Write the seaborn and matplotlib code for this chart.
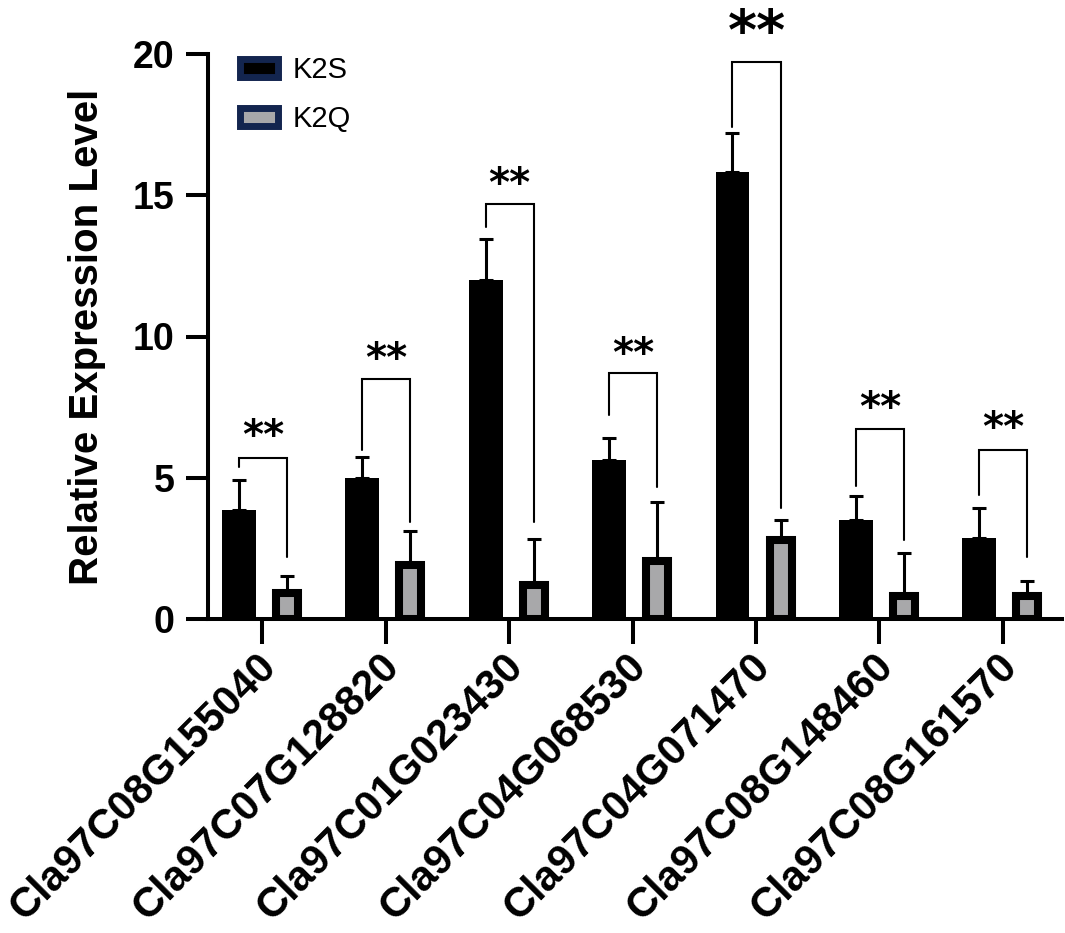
import numpy as np
import pandas as pd
import matplotlib
matplotlib.use("Agg")
import matplotlib.pyplot as plt
import matplotlib.transforms as mtransforms
from matplotlib.patches import Patch
import seaborn as sns

# ---------------- data ----------------
genes = ["Cla97C08G155040", "Cla97C07G128820", "Cla97C01G023430", "Cla97C04G068530",
         "Cla97C04G071470", "Cla97C08G148460", "Cla97C08G161570"]
groups = ["K2S", "K2Q"]
k2s_mean = [3.86, 4.99, 12.0, 5.63, 15.82, 3.50, 2.87]
k2s_sd = [1.07, 0.74, 1.45, 0.78, 1.38, 0.85, 1.06]
k2q_mean = [0.92, 1.91, 1.20, 2.05, 2.80, 0.81, 0.81]
k2q_sd = [0.60, 1.21, 1.63, 2.09, 0.70, 1.53, 0.54]
# significance brackets (y values): top, left-leg bottom, right-leg bottom, star level
br_top = [5.70, 8.50, 14.69, 8.71, 19.72, 6.73, 5.98]
br_left = [5.38, 5.98, 13.88, 7.22, 17.42, 4.71, 4.39]
br_right = [2.19, 3.43, 3.43, 4.67, 3.93, 2.80, 2.19]
star_y = [6.87, 9.60, 15.80, 9.80, 21.30, 7.86, 7.15]
star_text = ["**"] * 7
yticks = [0, 5, 10, 15, 20]

df = pd.DataFrame({
    "gene": genes * 2,
    "group": ["K2S"] * len(genes) + ["K2Q"] * len(genes),
    "value": k2s_mean + k2q_mean,
})

# ---------------- style ----------------
sns.set_style("ticks")
plt.rcParams["font.family"] = ["Liberation Sans", "DejaVu Sans"]
plt.rcParams["axes.linewidth"] = 2.9
for k in ["text.color", "axes.labelcolor", "xtick.color", "ytick.color", "axes.edgecolor"]:
    plt.rcParams[k] = "black"

GRAY = "#A8A8AA"
NAVY = "#13254F"

fig = plt.figure(figsize=(10.65, 9.33), dpi=100)
ax = fig.add_axes([208 / 1065, 1 - 619 / 933, 854 / 1065, 565 / 933])

sns.barplot(data=df, x="gene", y="value", hue="group", hue_order=groups,
            palette={"K2S": "black", "K2Q": GRAY}, errorbar=None,
            width=0.76, legend=False, ax=ax, saturation=1)

# adjust bar geometry / edges
k2s_bars, k2q_bars = ax.containers[0], ax.containers[1]
k2s_x, k2q_x = [], []
for p in k2s_bars:
    c = p.get_x() + p.get_width() / 2
    w = 0.275
    p.set_x(c - w / 2); p.set_width(w)
    p.set_edgecolor("black"); p.set_linewidth(0)
    k2s_x.append(c)
for p in k2q_bars:
    c = p.get_x() + p.get_width() / 2 + 0.01
    w = 0.178
    p.set_x(c - w / 2); p.set_width(w)
    p.set_edgecolor("black"); p.set_linewidth(5.8)
    k2q_x.append(c)

# error bars (upper only)
for xs, m, s in [(k2s_x, k2s_mean, k2s_sd), (k2q_x, k2q_mean, k2q_sd)]:
    ax.errorbar(xs, m, yerr=[np.zeros(len(s)), s], fmt="none", ecolor="black",
                elinewidth=2.2, capsize=5, capthick=2.2, zorder=3)

# brackets and stars
for i in range(len(genes)):
    xl, xr = k2s_x[i], k2q_x[i]
    ax.plot([xl, xl, xr, xr], [br_left[i], br_top[i], br_top[i], br_right[i]],
            color="black", lw=1.5, solid_joinstyle="miter", zorder=3, clip_on=False)
    fs = 40 if i == 4 else 29
    ax.annotate(star_text[i], xy=((xl + xr) / 2, star_y[i]), xytext=(0, -0.58 * fs),
                textcoords="offset points", ha="center", va="baseline",
                fontsize=fs, fontweight="bold", family="DejaVu Sans",
                annotation_clip=False)

# axes
ax.set_xlim(-0.44, 6.48)
ax.set_ylim(0, 20)
ax.set_yticks(yticks)
ax.set_yticklabels([str(t) for t in yticks], fontsize=27, fontweight="bold")
ax.set_xticks(range(len(genes)))
ax.set_xticklabels(genes, rotation=45, ha="right", va="center",
                   rotation_mode="anchor", fontsize=30, fontweight="bold")
ax.tick_params(axis="y", length=16, width=2.9, pad=8)
ax.tick_params(axis="x", length=18, width=2.9, pad=6)
shift = mtransforms.ScaledTranslation(0.08, -0.08, fig.dpi_scale_trans)
for lab in ax.get_xticklabels():
    lab.set_transform(lab.get_transform() + shift)
ax.set_xlabel("")
ax.set_ylabel("Relative Expression Level", fontsize=29, fontweight="bold")
ax.yaxis.set_label_coords(-0.12, 0.5)
sns.despine(ax=ax)

# legend
handles = [Patch(facecolor="black", edgecolor=NAVY, linewidth=5),
           Patch(facecolor=GRAY, edgecolor=NAVY, linewidth=5)]
ax.legend(handles, groups, loc="upper left", bbox_to_anchor=(0.0375, 0.996),
          frameon=False, fontsize=21, handlelength=1.3, handleheight=0.6,
          handletextpad=0.5, labelspacing=0.72, borderpad=0, borderaxespad=0)

fig.savefig("out.png", dpi=100)
